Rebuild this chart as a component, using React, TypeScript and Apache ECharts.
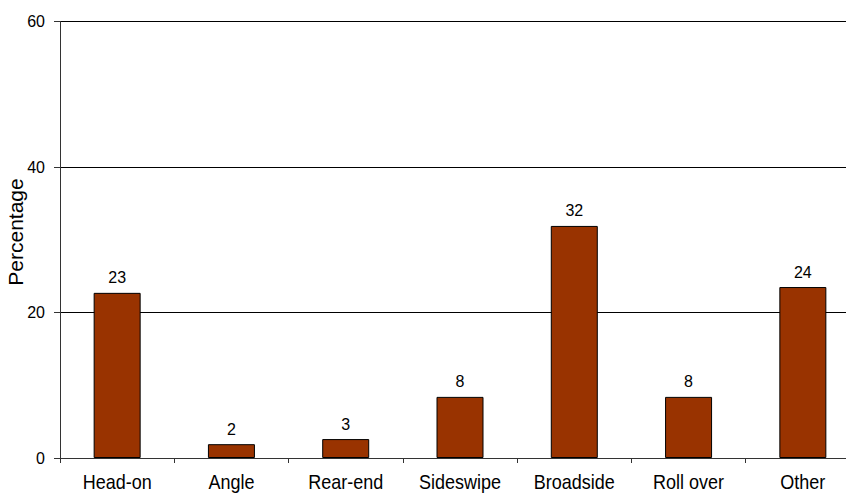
import React, { useEffect, useRef } from "react";
import * as echarts from "echarts";

// Crash types and their share of crashes (%)
const categories = ["Head-on", "Angle", "Rear-end", "Sideswipe", "Broadside", "Roll over", "Other"];
const percentages = [22.7, 1.9, 2.6, 8.4, 31.9, 8.4, 23.5];
const yTicks = { min: 0, max: 60, interval: 20 };
const yTitle = "Percentage";

const SANS = "Liberation Sans, Arial, sans-serif";

export default function App() {
  const ref = useRef<HTMLDivElement>(null);

  useEffect(() => {
    if (!ref.current) return;
    const chart = echarts.init(ref.current, undefined, { renderer: "svg" });
    chart.setOption({
      animation: false,
      backgroundColor: "#ffffff",
      grid: { left: 60, top: 21.5, width: 800, height: 436.5, outerBoundsMode: "none" },
      xAxis: {
        type: "category",
        data: categories,
        axisLine: { show: true, lineStyle: { color: "#333", width: 1 } },
        axisTick: { show: true, length: 5, lineStyle: { color: "#333" } },
        // category names are drawn below as condensed graphic texts
        axisLabel: { show: false },
      },
      yAxis: {
        type: "value",
        min: yTicks.min,
        max: yTicks.max,
        interval: yTicks.interval,
        axisLine: { show: true, lineStyle: { color: "#333", width: 1 } },
        axisTick: { show: true, length: 6, lineStyle: { color: "#333" } },
        axisLabel: { margin: 15, color: "#000", fontSize: 16, fontFamily: SANS },
        splitLine: { show: true, lineStyle: { color: "#000", width: 1 } },
      },
      series: [
        {
          type: "bar",
          data: percentages,
          barWidth: 47,
          itemStyle: { color: "#993300", borderColor: "#000", borderWidth: 1 },
          label: {
            show: true,
            position: "top",
            distance: 7,
            color: "#000",
            fontSize: 16,
            fontFamily: SANS,
            formatter: (p: any) => String(Math.round(p.value)),
          },
        },
      ],
    });

    // Narrow category names, placed at each category's position on the x axis
    const catTexts = categories.map((c) => {
      const [x, y] = chart.convertToPixel({ gridIndex: 0 }, [c, 0]) as number[];
      return {
        type: "text",
        x,
        y: y + 14,
        scaleX: 0.9,
        style: {
          text: c,
          align: "center",
          verticalAlign: "top",
          fontFamily: SANS,
          fontSize: 20,
          fill: "#000",
        },
      };
    });

    chart.setOption({
      graphic: [
        {
          type: "text",
          x: 15,
          y: 232,
          rotation: Math.PI / 2,
          style: {
            text: yTitle,
            align: "center",
            verticalAlign: "middle",
            fontFamily: SANS,
            fontSize: 21,
            fill: "#000",
          },
        },
        ...catTexts,
      ],
    });
    return () => chart.dispose();
  }, []);

  return (
    <div
      ref={ref}
      style={{ position: "fixed", left: 0, top: 0, width: 846, height: 496, background: "#fff" }}
    />
  );
}
